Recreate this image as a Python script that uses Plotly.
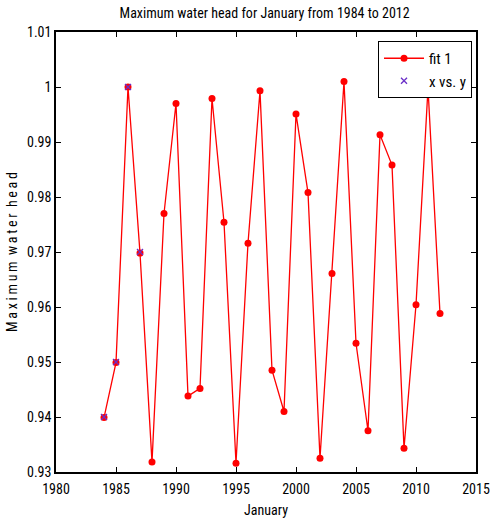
import plotly.graph_objects as go

years = list(range(1984, 2013))
head = [0.9399, 0.9499, 1.0000, 0.9698, 0.9318, 0.9770, 0.9970, 0.9438, 0.9452, 0.9979,
        0.9754, 0.9316, 0.9716, 0.9993, 0.9485, 0.9410, 0.9951, 0.9808, 0.9325, 0.9661,
        1.0010, 0.9534, 0.9375, 0.9913, 0.9858, 0.9343, 0.9604, 0.9998, 0.9588]
obs_years = [1984, 1985, 1986, 1987]
obs_head = [0.940, 0.950, 1.000, 0.970]

ytick_vals = [0.93, 0.94, 0.95, 0.96, 0.97, 0.98, 0.99, 1.00, 1.01]
ytick_text = ["0.93", "0.94", "0.95", "0.96", "0.97", "0.98", "0.99", "1", "1.01"]
xtick_vals = [1980, 1985, 1990, 1995, 2000, 2005, 2010, 2015]
xtick_text = ["1980", "1985", "1990", "1995", "2000", "2005", "2010", "2015"]

FONT = "Roboto Condensed, DejaVu Sans Condensed, Liberation Sans, sans-serif"
FS = 14

ylabel_words = ["Maximum", "water", "head"]
ylabel = "  ".join("\u2009".join(w) for w in ylabel_words)

fig = go.Figure()
fig.add_trace(go.Scatter(
    x=years, y=head, mode="lines+markers", name="fit 1",
    line=dict(color="#ff0000", width=1.3),
    marker=dict(color="#ff0000", size=7, symbol="circle"),
))
fig.add_trace(go.Scatter(
    x=obs_years, y=obs_head, mode="markers", name="x vs. y",
    marker=dict(color="#6a2fc8", size=6, symbol="x-thin", line=dict(color="#6a2fc8", width=1.3)),
))

axis_common = dict(
    showgrid=False, zeroline=False, showline=True, linecolor="black", linewidth=1.5,
    mirror="ticks", ticks="inside", ticklen=5, tickcolor="black",
    tickfont=dict(family=FONT, size=FS, color="black"),
    automargin=False, ticklabeloverflow="allow",
)

fig.update_layout(
    width=490, height=523,
    margin=dict(l=56, r=14, t=32, b=51),
    paper_bgcolor="white", plot_bgcolor="white",
    font=dict(family=FONT, size=FS, color="black"),
    title=dict(text="Maximum water head for January from 1984 to 2012",
               x=0.54, xanchor="center", y=0.975, yanchor="middle",
               font=dict(family=FONT, size=FS, color="black")),
    xaxis=dict(range=[1980, 2015.0001], tickvals=xtick_vals, ticktext=xtick_text,
               ticklabelstandoff=3,
               title=dict(text="January", standoff=10, font=dict(family=FONT, size=FS)),
               **axis_common),
    yaxis=dict(range=[0.93, 1.0100001], tickvals=ytick_vals, ticktext=ytick_text,
               title=dict(text=ylabel, standoff=6, font=dict(family=FONT, size=FS)),
               **axis_common),
    showlegend=True,
    legend=dict(x=0.9905, y=0.9795, xanchor="right", yanchor="top",
                bgcolor="white", bordercolor="black", borderwidth=1,
                font=dict(family=FONT, size=FS + 1, color="black"),
                itemwidth=40, tracegroupgap=0),
)

fig.write_html("out.html")
